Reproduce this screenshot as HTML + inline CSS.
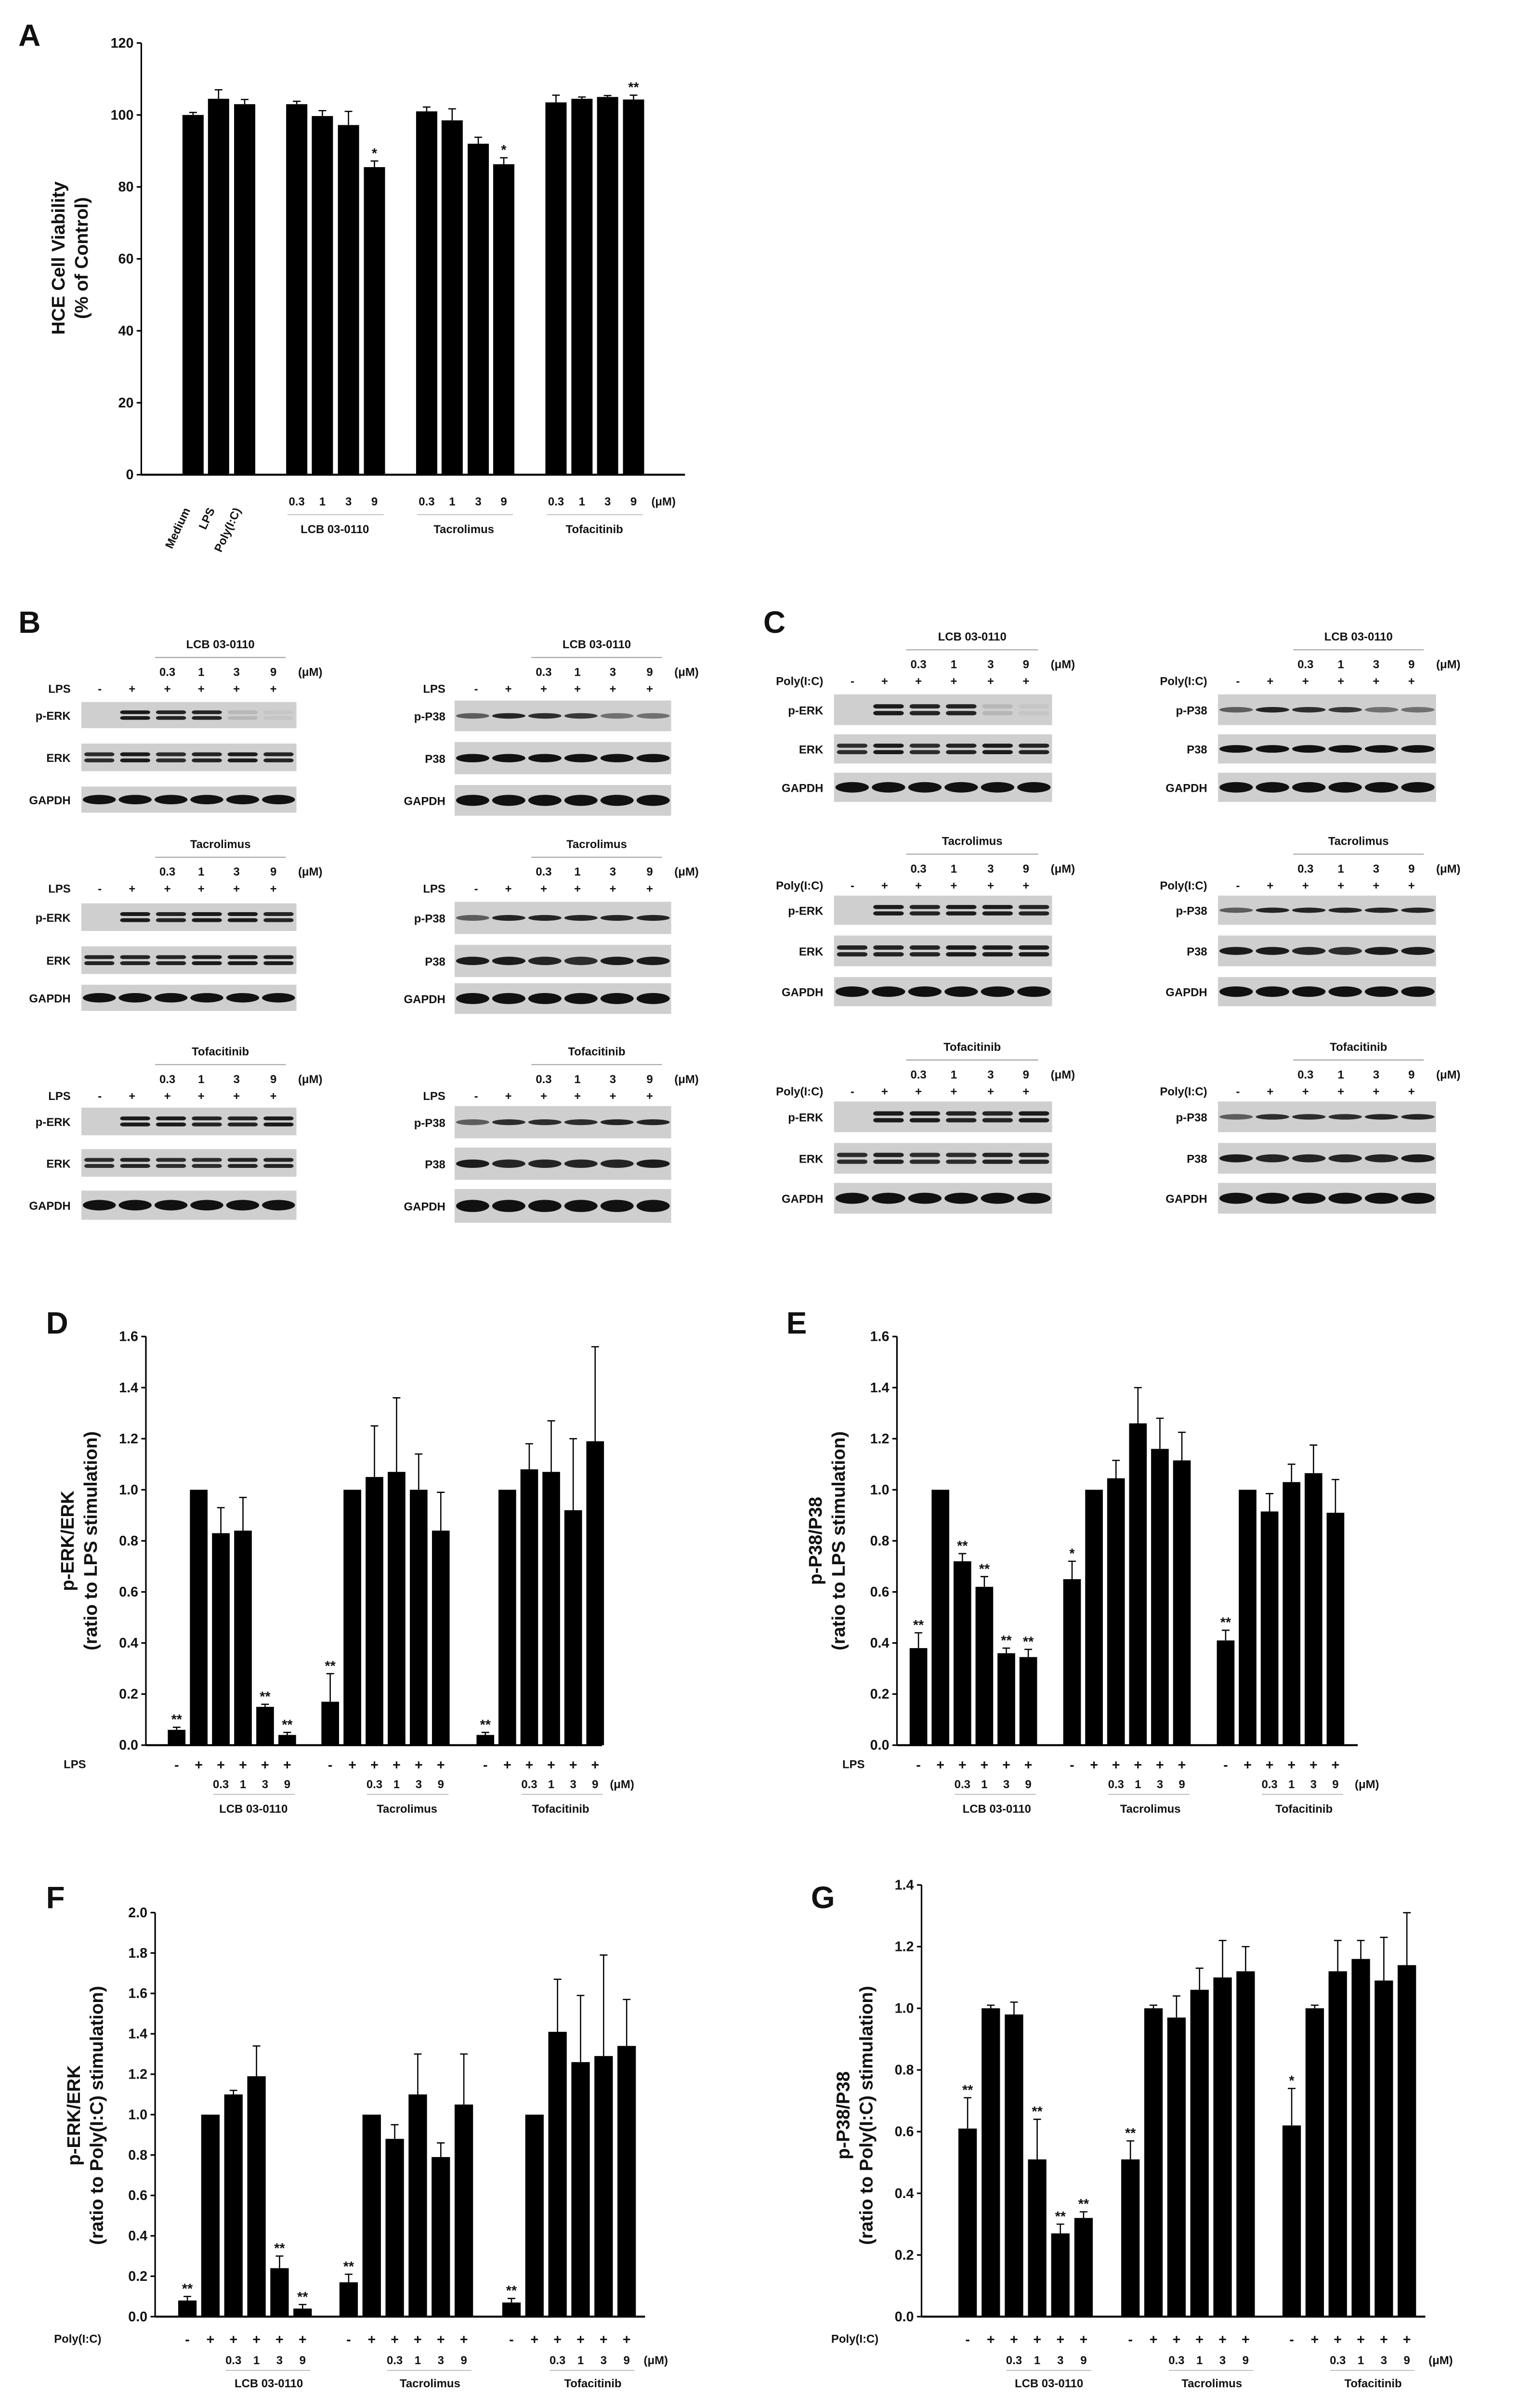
<!DOCTYPE html>
<html><head><meta charset="utf-8"><style>
html,body{margin:0;padding:0;background:#fff;width:3154px;height:5158px;overflow:hidden;}
svg{display:block;}
text{font-family:"Liberation Sans",Arial,sans-serif;font-weight:bold;fill:#111;}
.pl{font-size:20px;font-family:"Liberation Sans",sans-serif;}
.t{font-size:9px;}
.s{font-size:7.5px;}
.yl{font-size:12px;}
</style></head><body>
<svg id="s" width="3154" height="5158" viewBox="0 0 989 1617" preserveAspectRatio="none" xmlns="http://www.w3.org/2000/svg">
<rect width="989" height="1617" fill="#fff"/>
<text class="pl" x="12" y="30">A</text>
<text class="pl" x="12" y="412">B</text>
<text class="pl" x="497" y="412">C</text>
<text class="pl" x="30" y="868">D</text>
<text class="pl" x="512" y="868">E</text>
<text class="pl" x="30" y="1242">F</text>
<text class="pl" x="528" y="1242">G</text>
<text class="yl" transform="translate(42,168) rotate(-90)" text-anchor="middle">HCE Cell Viability</text>
<text class="yl" transform="translate(57,168) rotate(-90)" text-anchor="middle">(% of Control)</text>
<text class="s" transform="translate(124,332) rotate(-65)" text-anchor="end">Medium</text>
<text class="s" transform="translate(140,332) rotate(-65)" text-anchor="end">LPS</text>
<text class="s" transform="translate(157,332) rotate(-65)" text-anchor="end">Poly(I:C)</text>
<text class="s" x="218" y="347" text-anchor="middle">LCB 03-0110</text>
<text class="s" x="302" y="347" text-anchor="middle">Tacrolimus</text>
<text class="s" x="387" y="347" text-anchor="middle">Tofacitinib</text>
<text class="yl" transform="translate(48,1003) rotate(-90)" text-anchor="middle">p-ERK/ERK</text>
<text class="yl" transform="translate(63,1003) rotate(-90)" text-anchor="middle">(ratio to LPS stimulation)</text>
<text class="yl" transform="translate(535,1003) rotate(-90)" text-anchor="middle">p-P38/P38</text>
<text class="yl" transform="translate(550,1003) rotate(-90)" text-anchor="middle">(ratio to LPS stimulation)</text>
<text class="yl" transform="translate(52,1377) rotate(-90)" text-anchor="middle">p-ERK/ERK</text>
<text class="yl" transform="translate(67,1377) rotate(-90)" text-anchor="middle">(ratio to Poly(I:C) stimulation)</text>
<text class="yl" transform="translate(553,1377) rotate(-90)" text-anchor="middle">p-P38/P38</text>
<text class="yl" transform="translate(568,1377) rotate(-90)" text-anchor="middle">(ratio to Poly(I:C) stimulation)</text>
<text class="s" x="56" y="1151" text-anchor="end">LPS</text>
<text class="s" x="563" y="1151" text-anchor="end">LPS</text>
<text class="s" x="66" y="1525" text-anchor="end">Poly(I:C)</text>
<text class="s" x="572" y="1525" text-anchor="end">Poly(I:C)</text>
<text class="s" x="165" y="1180" text-anchor="middle">LCB 03-0110</text><text class="s" x="265" y="1180" text-anchor="middle">Tacrolimus</text><text class="s" x="365" y="1180" text-anchor="middle">Tofacitinib</text>
<text class="s" x="649" y="1180" text-anchor="middle">LCB 03-0110</text><text class="s" x="749" y="1180" text-anchor="middle">Tacrolimus</text><text class="s" x="849" y="1180" text-anchor="middle">Tofacitinib</text>
<text class="s" x="175" y="1554" text-anchor="middle">LCB 03-0110</text><text class="s" x="280" y="1554" text-anchor="middle">Tacrolimus</text><text class="s" x="386" y="1554" text-anchor="middle">Tofacitinib</text>
<text class="s" x="683" y="1554" text-anchor="middle">LCB 03-0110</text><text class="s" x="789" y="1554" text-anchor="middle">Tacrolimus</text><text class="s" x="894" y="1554" text-anchor="middle">Tofacitinib</text>
<g id="g"></g>
</svg>
<script>
var G=document.getElementById('g'),NS='http://www.w3.org/2000/svg';
function el(t,a,tx){var e=document.createElementNS(NS,t);for(var k in a)e.setAttribute(k,a[k]);if(tx!=null)e.textContent=tx;G.appendChild(e);return e;}
function txt(x,y,s,cls,anc){return el('text',{x:x,y:y,'class':cls||'s','text-anchor':anc||'middle'},s);}
function chart(c){
 var sc=(c.yb-c.yt)/c.max;
 el('line',{x1:c.x0,y1:c.yt,x2:c.x0,y2:c.yb,stroke:'#000','stroke-width':1});
 el('line',{x1:c.x0,y1:c.yb,x2:c.xe,y2:c.yb,stroke:'#000','stroke-width':1.3});
 for(var v=0;v<=c.max+1e-9;v+=c.step){var y=c.yb-v*sc;el('line',{x1:c.x0-3,y1:y,x2:c.x0,y2:y,stroke:'#000','stroke-width':1});txt(c.x0-5,y+3,c.fmt(v),'t','end');}
 c.bars.forEach(function(b){var cx=b[0],h=b[1]*sc,e=b[2]*sc,w=c.w;
  el('rect',{x:cx-w/2,y:c.yb-h,width:w,height:h,fill:'#000'});
  if(b[2]>0){el('line',{x1:cx,y1:c.yb-h,x2:cx,y2:c.yb-h-e,stroke:'#000','stroke-width':0.8});el('line',{x1:cx-2.5,y1:c.yb-h-e,x2:cx+2.5,y2:c.yb-h-e,stroke:'#000','stroke-width':0.8});}
  if(b[3])txt(cx,c.yb-h-e-2,b[3],'t');
 });
}
function chartRows(c,xs,yr,yc,mu){
 xs.forEach(function(g,gi){g.forEach(function(x,i){txt(x,yr,i==0?'-':'+','t');if(i>=2)txt(x,yc,['0.3','1','3','9'][i-2],'s');});
  el('line',{x1:g[2]-5,y1:yc+4,x2:g[5]+5,y2:yc+4,stroke:'#bbb','stroke-width':0.6});});
 txt(mu,yc,'(\u03bcM)','s');
}
function six(a,d){var r=[];for(var i=0;i<6;i++)r.push(a+i*d);return r;}
var A={x0:92,xe:446,yt:28,yb:309,max:120,step:20,w:13.8,fmt:function(v){return String(Math.round(v));},bars:[
[125.7,100,.7],[142.3,104.5,2.5],[159.3,103,1.3],
[193.2,103,.8],[209.9,99.7,1.5],[226.9,97.2,3.8],[243.8,85.5,1.7,'*'],
[277.8,101,1.2],[294.4,98.5,3.2],[311.4,92,1.8],[328,86.3,1.8,'*'],
[362,103.5,2],[378.9,104.5,.5],[395.6,105,.4],[412.5,104.3,1.2,'**']]};
chart(A);
[[193.2,209.9,226.9,243.8],[277.8,294.4,311.4,328],[362,378.9,395.6,412.5]].forEach(function(g){g.forEach(function(x,i){txt(x,329,['0.3','1','3','9'][i],'s');});el('line',{x1:g[0]-6,y1:335,x2:g[3]+6,y2:335,stroke:'#bbb','stroke-width':0.6});});
txt(432,329,'(\u03bcM)','s');
var fm=function(v){return v.toFixed(1);};
var dx=[six(115,14.4),six(215,14.4),six(316,14.3)];
chart({x0:95,xe:392,yt:870,yb:1136,max:1.6,step:.2,w:11.5,fmt:fm,bars:[
[dx[0][0],.06,.01,'**'],[dx[0][1],1,0],[dx[0][2],.83,.1],[dx[0][3],.84,.13],[dx[0][4],.15,.01,'**'],[dx[0][5],.04,.01,'**'],
[dx[1][0],.17,.11,'**'],[dx[1][1],1,0],[dx[1][2],1.05,.2],[dx[1][3],1.07,.29],[dx[1][4],1,.14],[dx[1][5],.84,.15],
[dx[2][0],.04,.01,'**'],[dx[2][1],1,0],[dx[2][2],1.08,.1],[dx[2][3],1.07,.2],[dx[2][4],.92,.28],[dx[2][5],1.19,.37]]});
chartRows(0,dx,1152,1164,405);
var ex=[six(598,14.3),six(698,14.3),six(798,14.3)];
chart({x0:584,xe:884,yt:870,yb:1136,max:1.6,step:.2,w:11.5,fmt:fm,bars:[
[ex[0][0],.38,.06,'**'],[ex[0][1],1,0],[ex[0][2],.72,.03,'**'],[ex[0][3],.62,.04,'**'],[ex[0][4],.36,.02,'**'],[ex[0][5],.345,.03,'**'],
[ex[1][0],.65,.07,'*'],[ex[1][1],1,0],[ex[1][2],1.045,.07],[ex[1][3],1.26,.14],[ex[1][4],1.16,.12],[ex[1][5],1.115,.11],
[ex[2][0],.41,.04,'**'],[ex[2][1],1,0],[ex[2][2],.915,.07],[ex[2][3],1.03,.07],[ex[2][4],1.065,.11],[ex[2][5],.91,.13]]});
chartRows(0,ex,1152,1164,890);
var fx=[six(122,15),six(227,15),six(333,15)];
chart({x0:101,xe:420,yt:1245,yb:1508,max:2.0,step:.2,w:12,fmt:fm,bars:[
[fx[0][0],.08,.02,'**'],[fx[0][1],1,0],[fx[0][2],1.1,.02],[fx[0][3],1.19,.15],[fx[0][4],.24,.06,'**'],[fx[0][5],.04,.02,'**'],
[fx[1][0],.17,.04,'**'],[fx[1][1],1,0],[fx[1][2],.88,.07],[fx[1][3],1.1,.2],[fx[1][4],.79,.07],[fx[1][5],1.05,.25],
[fx[2][0],.07,.02,'**'],[fx[2][1],1,0],[fx[2][2],1.41,.26],[fx[2][3],1.26,.33],[fx[2][4],1.29,.5],[fx[2][5],1.34,.23]]});
chartRows(0,fx,1526,1539,427);
var gx=[six(630,15.1),six(736,15),six(841,15)];
chart({x0:600,xe:928,yt:1227,yb:1508,max:1.4,step:.2,w:12,fmt:fm,bars:[
[gx[0][0],.61,.1,'**'],[gx[0][1],1,.01],[gx[0][2],.98,.04],[gx[0][3],.51,.13,'**'],[gx[0][4],.27,.03,'**'],[gx[0][5],.32,.02,'**'],
[gx[1][0],.51,.06,'**'],[gx[1][1],1,.01],[gx[1][2],.97,.07],[gx[1][3],1.06,.07],[gx[1][4],1.1,.12],[gx[1][5],1.12,.08],
[gx[2][0],.62,.12,'*'],[gx[2][1],1,.01],[gx[2][2],1.12,.1],[gx[2][3],1.16,.06],[gx[2][4],1.09,.14],[gx[2][5],1.14,.17]]});
chartRows(0,gx,1526,1539,938);
function blot(x,y,w,h,ints,type){
 el('rect',{x:x,y:y,width:w,height:h,fill:'#cfcfcf'});
 var lw=w/6;
 for(var i=0;i<6;i++){var a=ints[i];if(a<=0)continue;var cx=x+lw*(i+.5);
  if(type==1){el('rect',{x:cx-lw*.42,y:y+h*.32,width:lw*.84,height:h*.14,rx:2,fill:'#111','fill-opacity':a});el('rect',{x:cx-lw*.42,y:y+h*.54,width:lw*.84,height:h*.14,rx:2,fill:'#111','fill-opacity':a});}
  else if(type==2) el('ellipse',{cx:cx,cy:y+h*.5,rx:lw*.46,ry:h*.09,fill:'#111','fill-opacity':a});
  else if(type==3) el('ellipse',{cx:cx,cy:y+h*.5,rx:lw*.46,ry:h*.13,fill:'#111','fill-opacity':a});
  else el('ellipse',{cx:cx,cy:y+h*.5,rx:lw*.46,ry:h*.18,fill:'#111','fill-opacity':a});}
}
function group(o){
 txt((o.lanes[2]+o.lanes[5])/2,o.ty,o.title,'s');
 el('line',{x1:o.lanes[2]-8,y1:o.ty+6,x2:o.lanes[5]+8,y2:o.ty+6,stroke:'#999','stroke-width':0.6});
 o.lanes.forEach(function(lx,i){if(i>=2)txt(lx,o.ty+18,['0.3','1','3','9'][i-2],'s');txt(lx,o.ty+29,i==0?'-':'+','s');});
 txt(o.lanes[5]+24,o.ty+18,'(\u03bcM)','s');
 txt(o.lx,o.ty+29,o.stim,'s','end');
 o.rows.forEach(function(r,i){blot(o.x,r[0],o.w,r[1]-r[0],o.ints[i],o.types[i]);txt(o.lx,(r[0]+r[1])/2+3,o.names[i],'s','end');});
}
var gt=['LCB 03-0110','Tacrolimus','Tofacitinib'];
var erkI=[[[0,.95,.9,.9,.12,.05],[.85,.95,.85,.9,.95,.9],[1,1,1,1,1,1]],[[0,.95,.9,.95,.95,.9],[.9,.9,.9,.95,.95,.95],[1,1,1,1,1,1]],[[0,.95,.95,.9,.9,.95],[.85,.9,.85,.85,.9,.9],[1,1,1,1,1,1]]];
var p38I=[[[.6,.9,.85,.8,.5,.5],[1,1,1,1,1,1],[1,1,1,1,1,1]],[[.6,.9,.9,.9,.9,.9],[.95,.95,.9,.85,.95,.95],[1,1,1,1,1,1]],[[.6,.85,.85,.85,.9,.9],[.95,.9,.9,.9,.9,.95],[1,1,1,1,1,1]]];
var BL={ty:[422,552,687],rows:[[[457,474],[484,502],[512,529]],[[588,606],[616,634],[641,658]],[[721,739],[748,766],[775,794]]]};
var CL={ty:[417,550,684],rows:[[[452,472],[478,497],[503,522]],[[583,602],[609,629],[636,655]],[[717,737],[744,764],[770,790]]]};
for(var k=0;k<3;k++){
 group({x:53,w:140,lx:46,lanes:[65,86,109,131,154,178],title:gt[k],ty:BL.ty[k],stim:'LPS',rows:BL.rows[k],names:['p-ERK','ERK','GAPDH'],ints:erkI[k],types:[1,1,0]});
 group({x:296,w:141,lx:290,lanes:[310,331,354,376,399,423],title:gt[k],ty:BL.ty[k],stim:'LPS',rows:BL.rows[k].map(function(r){return[r[0]-1,r[1]+2];}),names:['p-P38','P38','GAPDH'],ints:p38I[k],types:[2,3,0]});
 group({x:543,w:142,lx:536,lanes:[555,576,598,621,645,668],title:gt[k],ty:CL.ty[k],stim:'Poly(I:C)',rows:CL.rows[k],names:['p-ERK','ERK','GAPDH'],ints:erkI[k],types:[1,1,0]});
 group({x:793,w:142,lx:786,lanes:[806,827,850,873,896,919],title:gt[k],ty:CL.ty[k],stim:'Poly(I:C)',rows:CL.rows[k],names:['p-P38','P38','GAPDH'],ints:p38I[k],types:[2,3,0]});
}
</script>
</body></html>
